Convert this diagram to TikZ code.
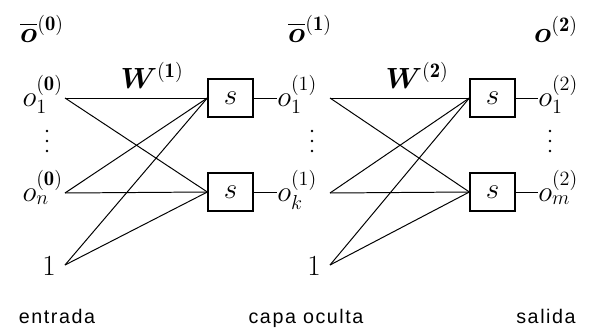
\documentclass[tikz,border=0pt]{standalone}
\usepackage{amsmath,amssymb,bm}
\usepackage{fontspec}
\setsansfont{Liberation Sans}
\usetikzlibrary{positioning}

\begin{document}
\begin{tikzpicture}[
  x=0.025cm, y=-0.025cm,
  unit/.style={draw, line width=0.9pt, minimum width=1.125cm, minimum height=0.95cm,
    inner sep=0pt, font=\fontsize{21}{23}\selectfont},
  lbl/.style={font=\fontsize{21}{23}\selectfont, inner sep=0pt},
  caption/.style={font=\fontsize{14}{16}\selectfont\sffamily\addfontfeature{LetterSpace=8}},
  conn/.style={line width=0.7pt}
]
\useasboundingbox (0,0) rectangle (593,330);

% capa de entrada
\coordinate (x1) at (65,98);
\coordinate (xn) at (65,193);
\coordinate (x0) at (65,265);
\node[lbl, anchor=mid east] (x1lbl) at (63,103) {$o_1^{(\mathbf{0})}$};
\node[lbl, anchor=mid east] (xnlbl) at (63,198) {$o_n^{(\mathbf{0})}$};
\node[lbl, anchor=base] (x0lbl) at (49,275) {$1$};
\node[lbl, anchor=base] (obar0) at (42,42) {$\overline{\bm{o}}^{(\mathbf{0})}$};

% capa oculta
\node[unit] (s11) at (230.5,98) {$s$};
\node[unit] (s1k) at (230.5,192) {$s$};
\coordinate (h1) at (330,98);
\coordinate (hk) at (330,193);
\coordinate (h0) at (330,265);
\node[lbl, anchor=mid west] (h1lbl) at (277,103) {$o_1^{(1)}$};
\node[lbl, anchor=mid west] (hklbl) at (277,198) {$o_k^{(1)}$};
\node[lbl, anchor=base] (h0lbl) at (314,275) {$1$};
\node[lbl, anchor=base] (obar1) at (310,42) {$\overline{\bm{o}}^{(\mathbf{1})}$};
\node[lbl, anchor=base] (w1) at (152,88) {$\bm{W}^{(\mathbf{1})}$};

% capa de salida
\node[unit] (s21) at (492.5,98) {$s$};
\node[unit] (s2m) at (492.5,192) {$s$};
\node[lbl, anchor=mid west] (y1lbl) at (538,103) {$o_1^{(2)}$};
\node[lbl, anchor=mid west] (ymlbl) at (538,198) {$o_m^{(2)}$};
\node[lbl, anchor=base] (o2) at (556,42) {$\bm{o}^{(\mathbf{2})}$};
\node[lbl, anchor=base] (w2) at (417,88) {$\bm{W}^{(\mathbf{2})}$};

% puntos suspensivos
\foreach \xx in {47,312,550}
  \foreach \yy in {131,141,151}
    \fill (\xx,\yy) circle (0.9pt);

% conexiones
\foreach \src in {x1,xn,x0}
  \foreach \dst in {s11,s1k}
    \draw[conn] (\src) -- (\dst.west);
\foreach \src in {h1,hk,h0}
  \foreach \dst in {s21,s2m}
    \draw[conn] (\src) -- (\dst.west);
\draw[conn] (s11.east) -- (s11.east -| h1lbl.west);
\draw[conn] (s1k.east) -- (s1k.east -| hklbl.west);
\draw[conn] (s21.east) -- (s21.east -| y1lbl.west);
\draw[conn] (s2m.east) -- (s2m.east -| ymlbl.west);

% rotulos
\node[caption, anchor=base] (cin) at (57,323) {entrada};
\node[caption, anchor=base] (chid) at (306,323) {capa oculta};
\node[caption, anchor=base] (cout) at (546,323) {salida};
\end{tikzpicture}
\end{document}
